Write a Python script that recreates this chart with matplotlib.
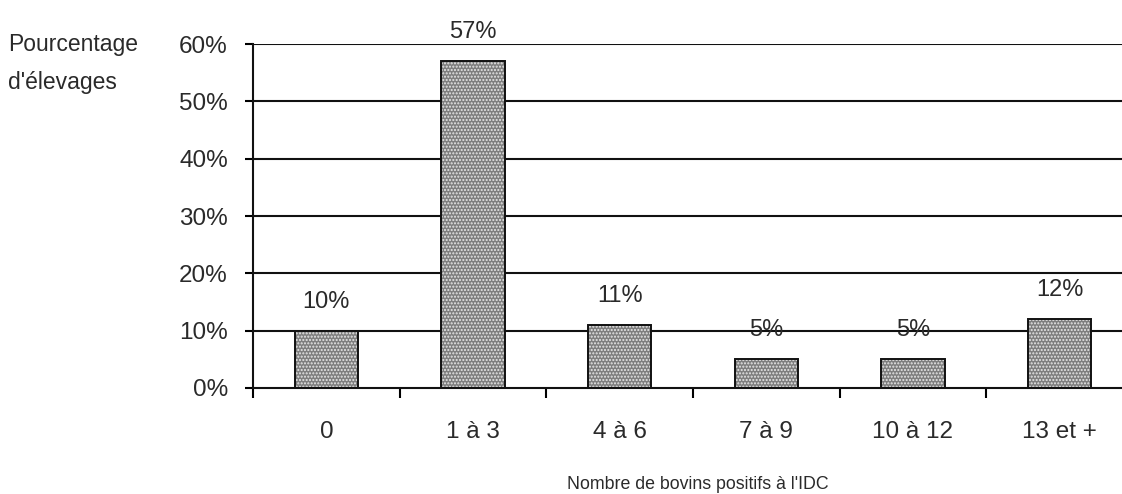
import matplotlib.pyplot as plt
import numpy as np

plt.rcParams['font.family'] = ['Liberation Sans', 'DejaVu Sans']
plt.rcParams['hatch.linewidth'] = 1.0

# data
categories = ["0", "1 à 3", "4 à 6", "7 à 9", "10 à 12", "13 et +"]
values = [10, 57, 11, 5, 5, 12]
yticks = [0, 10, 20, 30, 40, 50, 60]

txt = '#2a2a2a'
fig = plt.figure(figsize=(11.22, 4.94), dpi=100)
ax = fig.add_axes([253/1122, 1 - 388/494, 880/1122, 344/494])

x = np.arange(len(categories))
ax.set_xlim(-0.5, len(categories) - 0.5)
ax.set_ylim(0, 60)

# grid lines
for v in yticks[1:]:
    ax.axhline(v, color='#111111', lw=1.5, zorder=1)

# bars: gray fill with white hatch, then black outline on top
ax.bar(x, values, width=0.43, color='#7e7e7e', edgecolor='#e8e8e8', hatch='.....',
       linewidth=0, zorder=2)
ax.bar(x, values, width=0.43, fill=False, edgecolor='#111111', linewidth=1.4, zorder=3)

for xi, v in zip(x, values):
    ax.annotate(f"{v}%", (xi, v), xytext=(0, 21), textcoords='offset points',
                ha='center', va='center', fontsize=17, color=txt)

for s in ['top', 'right']:
    ax.spines[s].set_visible(False)
ax.spines['left'].set_linewidth(1.5)
ax.spines['bottom'].set_linewidth(1.5)
ax.spines['left'].set_color('#111111')
ax.spines['bottom'].set_color('#111111')

ax.set_yticks(yticks)
ax.set_yticklabels([f"{v}%" for v in yticks], fontsize=17.5, color=txt)
ax.tick_params(axis='y', length=6, width=1.5, pad=12)

# ticks at category boundaries, labels at centers
ax.set_xticks(np.arange(-0.5, len(categories)), minor=False)
ax.set_xticklabels([])
ax.set_xticks(x, minor=True)
ax.set_xticklabels(categories, minor=True, fontsize=17.5, color=txt)
ax.tick_params(axis='x', which='major', length=7, width=1.5, direction='out')
ax.tick_params(axis='x', which='minor', length=0, pad=24)

fig.text(8/1122, 1 - 45/494, "Pourcentage", fontsize=16.5, color=txt, va='center', ha='left')
fig.text(8/1122, 1 - 82/494, "d'élevages", fontsize=16.5, color=txt, va='center', ha='left')
fig.text(698/1122, 1 - 484/494, "Nombre de bovins positifs à l'IDC", fontsize=12.8,
         color=txt, va='center', ha='center')

fig.savefig('out.png', dpi=100)
